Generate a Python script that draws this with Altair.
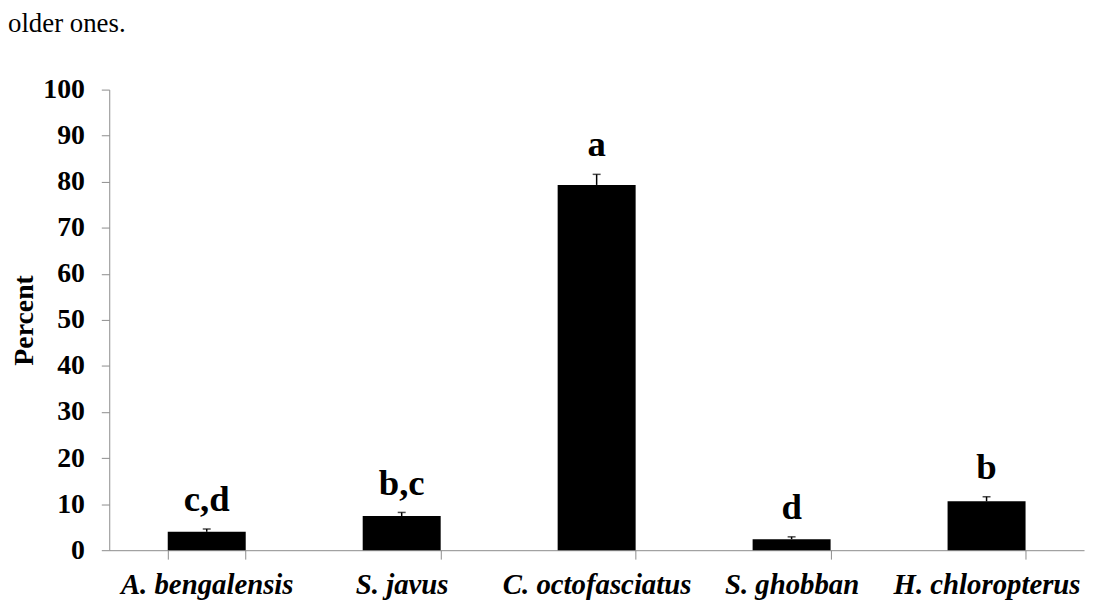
import altair as alt
import pandas as pd

species = ["A. bengalensis", "S. javus", "C. octofasciatus", "S. ghobban", "H. chloropterus"]
means = [4.0, 7.4, 79.3, 2.4, 10.6]
errors = [0.6, 0.8, 2.3, 0.5, 1.0]
letters = ["c,d", "b,c", "a", "d", "b"]
y_ticks = [0, 10, 20, 30, 40, 50, 60, 70, 80, 90, 100]

df = pd.DataFrame({
    "species": species,
    "mean": means,
    "se": errors,
    "letter": letters,
})
df["upper"] = df["mean"] + df["se"]

FONT = "Liberation Serif"

x_enc = alt.X(
    "species:N",
    sort=species,
    scale=alt.Scale(paddingInner=0.6, paddingOuter=0.3),
    axis=alt.Axis(
        title=None,
        labelAngle=0,
        labelFont=FONT,
        labelFontSize=29,
        labelFontWeight="bold",
        labelFontStyle="italic",
        labelColor="black",
        labelPadding=12,
        labelLimit=0,
        domainColor="#8c8c8c",
        tickColor="#8c8c8c",
        tickSize=9,
        tickBand="extent",
        grid=False,
    ),
)
y_scale = alt.Scale(domain=[0, 100], nice=False)
y_axis = alt.Axis(
    title="Percent",
    values=y_ticks,
    labelFont=FONT,
    labelFontSize=28,
    labelFontWeight="bold",
    labelColor="black",
    labelPadding=17,
    titleFont=FONT,
    titleFontSize=28,
    titleFontWeight="bold",
    titleColor="black",
    titlePadding=4,
    domainColor="#8c8c8c",
    tickColor="#8c8c8c",
    tickSize=8,
    grid=False,
)

base = alt.Chart(df).encode(x=x_enc)

bars = base.mark_bar(color="black").encode(
    y=alt.Y("mean:Q", scale=y_scale, axis=y_axis)
)
err = base.mark_rule(color="black", strokeWidth=1.5).encode(
    y=alt.Y("mean:Q"), y2="upper:Q"
)
cap = base.mark_tick(color="black", size=8, thickness=1.5).encode(
    y=alt.Y("upper:Q")
)
text = base.mark_text(
    font=FONT, fontSize=37, fontWeight="bold", color="black",
    baseline="alphabetic", dy=-18,
).encode(y=alt.Y("upper:Q"), text="letter:N")

chart = alt.layer(bars, err, cap, text).properties(
    width=982,
    height=464,
    background="white",
    title=alt.TitleParams(
        "older ones.",
        anchor="start",
        frame="group",
        dx=-102,
        offset=17,
        font=FONT,
        fontSize=27,
        fontWeight="normal",
        color="black",
        baseline="alphabetic",
    ),
    autosize=alt.AutoSizeParams(type="none"),
    padding={"left": 102, "top": 80, "right": 6, "bottom": 52},
).configure_view(stroke=None)

chart.save("out.html", embed_options={"renderer": "svg", "actions": False})
